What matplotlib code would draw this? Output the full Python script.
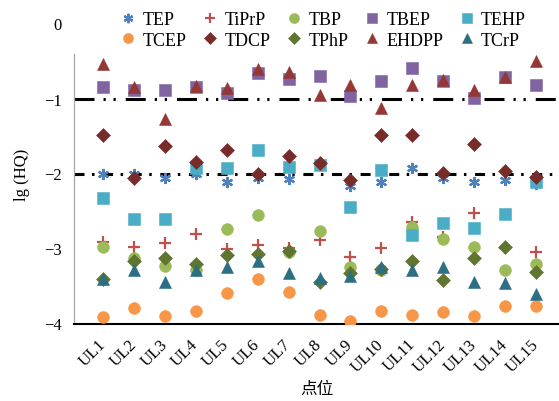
import matplotlib
matplotlib.use("Agg")
import matplotlib.pyplot as plt
from matplotlib.lines import Line2D

plt.rcParams['font.family'] = ['Liberation Serif', 'DejaVu Serif']
plt.rcParams['axes.unicode_minus'] = True
plt.rcParams['lines.scale_dashes'] = False

sites = ["UL1", "UL2", "UL3", "UL4", "UL5", "UL6", "UL7", "UL8", "UL9", "UL10",
         "UL11", "UL12", "UL13", "UL14", "UL15"]

TEP = [-2.01, -2.01, -2.06, -2.01, -2.11, -2.06, -2.07, -1.88, -2.17, -2.11, -1.93, -2.06, -2.11, -2.08, -2.14]
TiPrP = [-2.91, -2.98, -2.93, -2.81, -3.01, -2.95, -2.99, -2.89, -3.11, -2.99, -2.64, -2.85, -2.53, -2.99, -3.04]
TBP = [-2.98, -3.12, -3.23, -3.28, -2.74, -2.55, -3.05, -2.76, -3.24, -3.29, -2.71, -2.87, -2.98, -3.28, -3.20]
TBEP = [-0.85, -0.88, -0.88, -0.85, -0.92, -0.66, -0.74, -0.70, -0.97, -0.77, -0.59, -0.77, -0.99, -0.71, -0.82]
TEHP = [-2.33, -2.60, -2.61, -1.93, -1.93, -1.68, -1.91, -1.88, -2.45, -1.95, -2.82, -2.66, -2.73, -2.54, -2.11]
TCEP = [-3.91, -3.79, -3.90, -3.83, -3.59, -3.40, -3.58, -3.88, -3.96, -3.83, -3.89, -3.85, -3.90, -3.76, -3.76]
TDCP = [-1.49, -2.06, -1.63, -1.85, -1.68, -2.00, -1.77, -1.86, -2.09, -1.48, -1.48, -1.99, -1.60, -1.97, -2.04]
TPhP = [-3.40, -3.16, -3.13, -3.21, -3.08, -3.07, -3.03, -3.44, -3.33, -3.27, -3.16, -3.42, -3.13, -2.98, -3.31]
EHDPP = [-0.54, -0.85, -1.27, -0.83, -0.86, -0.60, -0.64, -0.95, -0.82, -1.13, -0.82, -0.75, -0.88, -0.71, -0.50]
TCrP = [-3.40, -3.29, -3.45, -3.29, -3.24, -3.16, -3.33, -3.39, -3.37, -3.25, -3.28, -3.24, -3.44, -3.46, -3.61]

ref_levels = [-1, -2]

series = [
    ("TEP", TEP, (6, 2, 0), "#4F81BD", 8, True),
    ("TiPrP", TiPrP, "+", "#C0504D", 9, True),
    ("TBP", TBP, "o", "#9BBB59", 8.5, False),
    ("TBEP", TBEP, "s", "#8064A2", 8, False),
    ("TEHP", TEHP, "s", "#4BACC6", 8, False),
    ("TCEP", TCEP, "o", "#F79646", 8.5, False),
    ("TDCP", TDCP, "D", "#772C2A", 7, False),
    ("TPhP", TPhP, "D", "#5F7530", 7, False),
    ("EHDPP", EHDPP, "^", "#953735", 8, False),
    ("TCrP", TCrP, "^", "#2C6E84", 8, False),
]

fig = plt.figure(figsize=(5.59, 4.02), dpi=100)
W, H = 559, 402
ax = fig.add_axes([74 / W, 77.5 / H, 485 / W, 300 / H])

x = list(range(1, len(sites) + 1))
handles = {}
for i, (name, vals, mk, col, ms, is_line) in enumerate(series):
    if is_line:
        h, = ax.plot(x, vals, linestyle="none", marker=mk, color=col, markersize=ms,
                     markeredgewidth=1.6, label=name, zorder=3 + i)
    else:
        h, = ax.plot(x, vals, linestyle="none", marker=mk, color=col, markersize=ms,
                     markeredgewidth=0.4, markeredgecolor=col, label=name, zorder=3 + i)
    handles[name] = h

# reference lines
ax.axhline(ref_levels[0], color="black", lw=2.2, linestyle=(0, (14.4, 6.5, 1.6, 5.6, 1.6, 7.2)), zorder=2)
ax.axhline(ref_levels[1], color="black", lw=2.2, linestyle=(0, (7.2, 5.4, 1.8, 6.2)), zorder=2)

ax.set_xlim(0.0625, 15.74)
ax.set_ylim(-4, 0)
ax.set_yticks([0, -1, -2, -3, -4])
ax.set_xticks(x)
ax.set_xticklabels(sites, rotation=45, ha="right", va="center", rotation_mode="anchor", fontsize=12)
ax.tick_params(axis="both", length=0, labelsize=12)
ax.tick_params(axis="y", pad=9)
ax.tick_params(axis="x", pad=13)

for s in ["top", "right"]:
    ax.spines[s].set_visible(False)
ax.spines["left"].set_color("#A6A6A6")
ax.spines["left"].set_linewidth(0.9)
ax.spines["left"].set_bounds(-4, -0.41)
ax.spines["bottom"].set_color("black")
ax.spines["bottom"].set_linewidth(1.5)

ax.set_ylabel("lg (HQ)", fontsize=12, labelpad=10)
ax.set_xlabel("点位", fontsize=12, family=["Noto Sans CJK SC", "DejaVu Sans"], labelpad=4)

order = ["TEP", "TCEP", "TiPrP", "TDCP", "TBP", "TPhP", "TBEP", "EHDPP", "TEHP", "TCrP"]
leg = fig.legend([handles[n] for n in order], order, ncol=5, frameon=False,
                 loc="upper left", bbox_to_anchor=(119 / W, 1 - 12 / H),
                 fontsize=13, handlelength=1.0, handletextpad=0.3, columnspacing=0.8,
                 labelspacing=0.2, borderpad=0, borderaxespad=0, markerscale=0.85)

fig.savefig("out.png", dpi=100)
